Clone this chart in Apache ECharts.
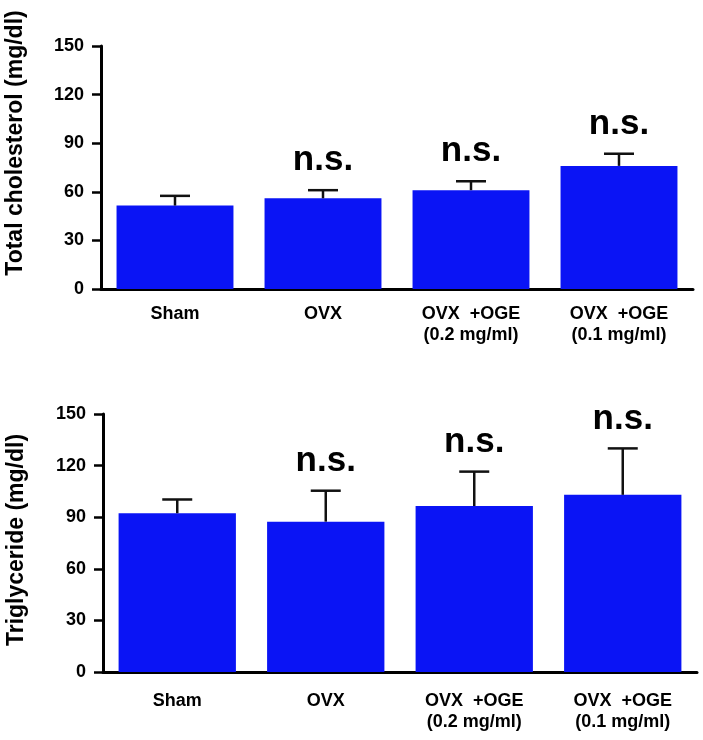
<!DOCTYPE html>
<html>
<head>
<meta charset="utf-8">
<script src="https://cdn.jsdelivr.net/npm/echarts@6/dist/echarts.min.js"></script>
<style>
  html, body { margin: 0; padding: 0; background: #fff; }
  #main { width: 703px; height: 740px; }
</style>
</head>
<body>
<div id="main"></div>
<script>
// groups on the x axis
var groups = ['Sham', 'OVX', 'OVX  +OGE\n(0.2 mg/ml)', 'OVX  +OGE\n(0.1 mg/ml)'];
var yTicks = [0, 30, 60, 90, 120, 150];

// total cholesterol (mg/dl): mean and error (upper bar only)
var cholMean = [51.5, 56, 61, 76];
var cholErr = [6, 5, 5.5, 7.5];
var cholSig = ['', 'n.s.', 'n.s.', 'n.s.'];

// triglyceride (mg/dl)
var trigMean = [92.3, 87.4, 96.5, 103];
var trigErr = [8, 18, 20, 27];
var trigSig = ['', 'n.s.', 'n.s.', 'n.s.'];

var FONT = '"Liberation Sans", Arial, sans-serif';
var BLUE = '#0a14f5';

function errData(mean, err, sig) {
    var out = [];
    for (var i = 0; i < mean.length; i++) {
        out.push([i, mean[i], mean[i] + err[i], sig[i]]);
    }
    return out;
}

function renderErr(params, api) {
    var base = api.coord([api.value(0), api.value(1)]);
    var top = api.coord([api.value(0), api.value(2)]);
    var sig = api.value(3);
    var style = { stroke: '#111', lineWidth: 2.5 };
    var kids = [
        { type: 'line', shape: { x1: base[0], y1: base[1], x2: top[0], y2: top[1] }, style: style },
        { type: 'line', shape: { x1: top[0] - 15, y1: top[1], x2: top[0] + 15, y2: top[1] }, style: style }
    ];
    if (sig) {
        kids.push({
            type: 'text',
            x: top[0], y: top[1] - 12,
            style: {
                text: sig, fill: '#000', font: 'bold 35px ' + FONT,
                align: 'center', verticalAlign: 'bottom'
            }
        });
    }
    return { type: 'group', children: kids };
}

function xAxisFor(idx, margin) {
    return {
        type: 'category', gridIndex: idx, data: groups,
        axisLine: { lineStyle: { color: '#000', width: 3 } },
        axisTick: { show: false },
        axisLabel: {
            color: '#000', fontFamily: FONT, fontWeight: 'bold', fontSize: 18,
            lineHeight: 21, margin: margin, interval: 0
        }
    };
}

function yAxisFor(idx) {
    return {
        type: 'value', gridIndex: idx, min: yTicks[0], max: yTicks[yTicks.length - 1], interval: 30,
        axisLine: { show: true, lineStyle: { color: '#000', width: 3 } },
        axisTick: { show: true, length: 9, lineStyle: { color: '#000', width: 2.5 } },
        splitLine: { show: false },
        axisLabel: { color: '#000', fontFamily: FONT, fontWeight: 'bold', fontSize: 18, margin: 17 }
    };
}

var myChart = echarts.init(document.getElementById('main'));

var option = {
    backgroundColor: '#fff',
    animation: false,
    grid: [
        { left: 101, right: 10, top: 46, height: 243 },
        { left: 103, right: 6, top: 414, height: 258 }
    ],
    xAxis: [xAxisFor(0, 15), xAxisFor(1, 19)],
    yAxis: [yAxisFor(0), yAxisFor(1)],
    graphic: [
        {
            type: 'text', x: 16, y: 143, rotation: Math.PI / 2,
            style: {
                text: 'Total cholesterol (mg/dl)', fill: '#000', font: 'bold 23px ' + FONT,
                align: 'center', verticalAlign: 'middle'
            }
        },
        {
            type: 'text', x: 17, y: 540, rotation: Math.PI / 2,
            style: {
                text: 'Triglyceride (mg/dl)', fill: '#000', font: 'bold 23px ' + FONT,
                align: 'center', verticalAlign: 'middle'
            }
        }
    ],
    series: [
        {
            type: 'bar', xAxisIndex: 0, yAxisIndex: 0, data: cholMean,
            barWidth: '79%', itemStyle: { color: BLUE }
        },
        {
            type: 'custom', xAxisIndex: 0, yAxisIndex: 0,
            data: errData(cholMean, cholErr, cholSig), renderItem: renderErr, z: 5
        },
        {
            type: 'bar', xAxisIndex: 1, yAxisIndex: 1, data: trigMean,
            barWidth: '79%', itemStyle: { color: BLUE }
        },
        {
            type: 'custom', xAxisIndex: 1, yAxisIndex: 1,
            data: errData(trigMean, trigErr, trigSig), renderItem: renderErr, z: 5
        }
    ]
};

myChart.setOption(option);
</script>
</body>
</html>
